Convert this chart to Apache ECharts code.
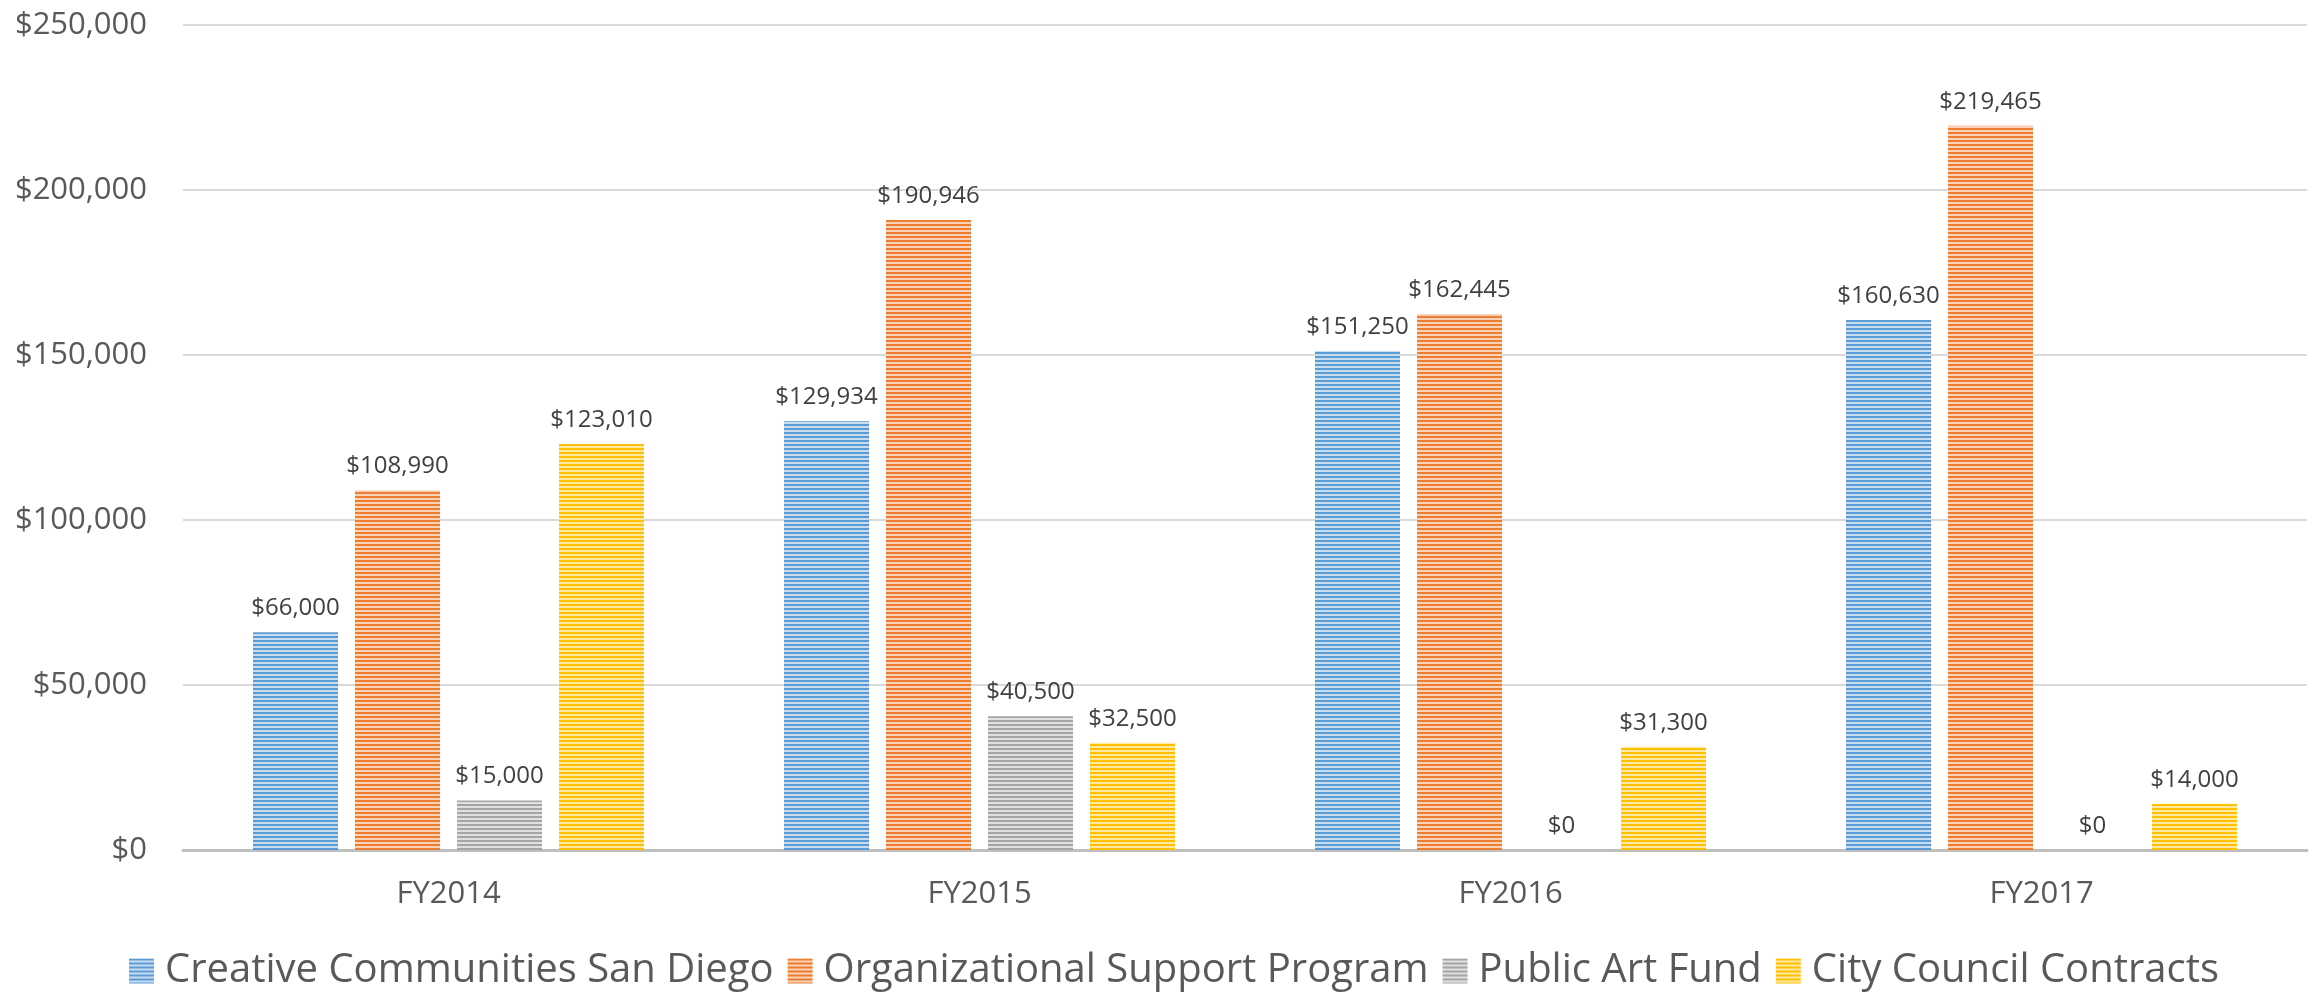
<!DOCTYPE html>
<html>
<head>
<meta charset="utf-8">
<script src="https://cdn.jsdelivr.net/npm/echarts@6/dist/echarts.min.js"></script>
<style>
  html, body { margin: 0; padding: 0; background: #fff; }
  #chart { width: 2323px; height: 992px; }
</style>
</head>
<body>
<div id="chart"></div>
<script>
const years = ['FY2014', 'FY2015', 'FY2016', 'FY2017'];
const seriesNames = ['Creative Communities San Diego', 'Organizational Support Program', 'Public Art Fund', 'City Council Contracts'];
const creative = [66000, 129934, 151250, 160630];
const orgSupport = [108990, 190946, 162445, 219465];
const publicArt = [15000, 40500, 0, 0];
const council = [123010, 32500, 31300, 14000];
const yTicks = [0, 50000, 100000, 150000, 200000, 250000];

// stripe fills (dark line / light line)
const stripes = [
  ['#5B9BD5', '#C9DDF1'],
  ['#ED7D31', '#F9D2B8'],
  ['#A5A5A5', '#E0E0E0'],
  ['#FFC000', '#FFE8A3']
];

function stripe(dark, light) {
  const c = document.createElement('canvas');
  c.width = 4; c.height = 4;
  const ctx = c.getContext('2d');
  ctx.fillStyle = light;
  ctx.fillRect(0, 0, 4, 4);
  ctx.fillStyle = dark;
  ctx.fillRect(0, 0, 4, 2);
  return { image: c, repeat: 'repeat' };
}

const money = v => '$' + Math.round(v).toLocaleString('en-US');

const chart = echarts.init(document.getElementById('chart'));
const allData = [creative, orgSupport, publicArt, council];

chart.setOption({
  animation: false,
  textStyle: { fontFamily: 'Open Sans' },
  grid: { left: 183, right: 16, top: 25, bottom: 142 },
  legend: {
    data: seriesNames,
    top: 946,
    left: 124,
    itemWidth: 25,
    itemHeight: 25,
    itemGap: 14,
    icon: 'rect',
    textStyle: { fontSize: 40, color: '#595959', fontFamily: 'Open Sans', padding: [0, 0, 0, 6] }
  },
  xAxis: {
    type: 'category',
    data: years,
    axisTick: { show: false },
    axisLine: { lineStyle: { color: '#BFBFBF', width: 3 } },
    axisLabel: { fontSize: 31, color: '#595959', margin: 29 }
  },
  yAxis: {
    type: 'value',
    min: yTicks[0],
    max: yTicks[yTicks.length - 1],
    interval: 50000,
    axisLine: { show: false },
    axisTick: { show: false },
    splitLine: { lineStyle: { color: '#D9D9D9', width: 2 } },
    axisLabel: {
      fontSize: 31,
      color: '#595959',
      margin: 36,
      formatter: v => money(v)
    }
  },
  series: allData.map((d, i) => ({
    name: seriesNames[i],
    type: 'bar',
    data: d,
    barWidth: 85,
    barGap: '20%',
    itemStyle: { color: stripe(stripes[i][0], stripes[i][1]) },
    label: {
      show: true,
      position: 'top',
      distance: 12,
      fontSize: 24,
      color: '#404040',
      formatter: p => money(p.value)
    }
  }))
});
</script>
</body>
</html>
